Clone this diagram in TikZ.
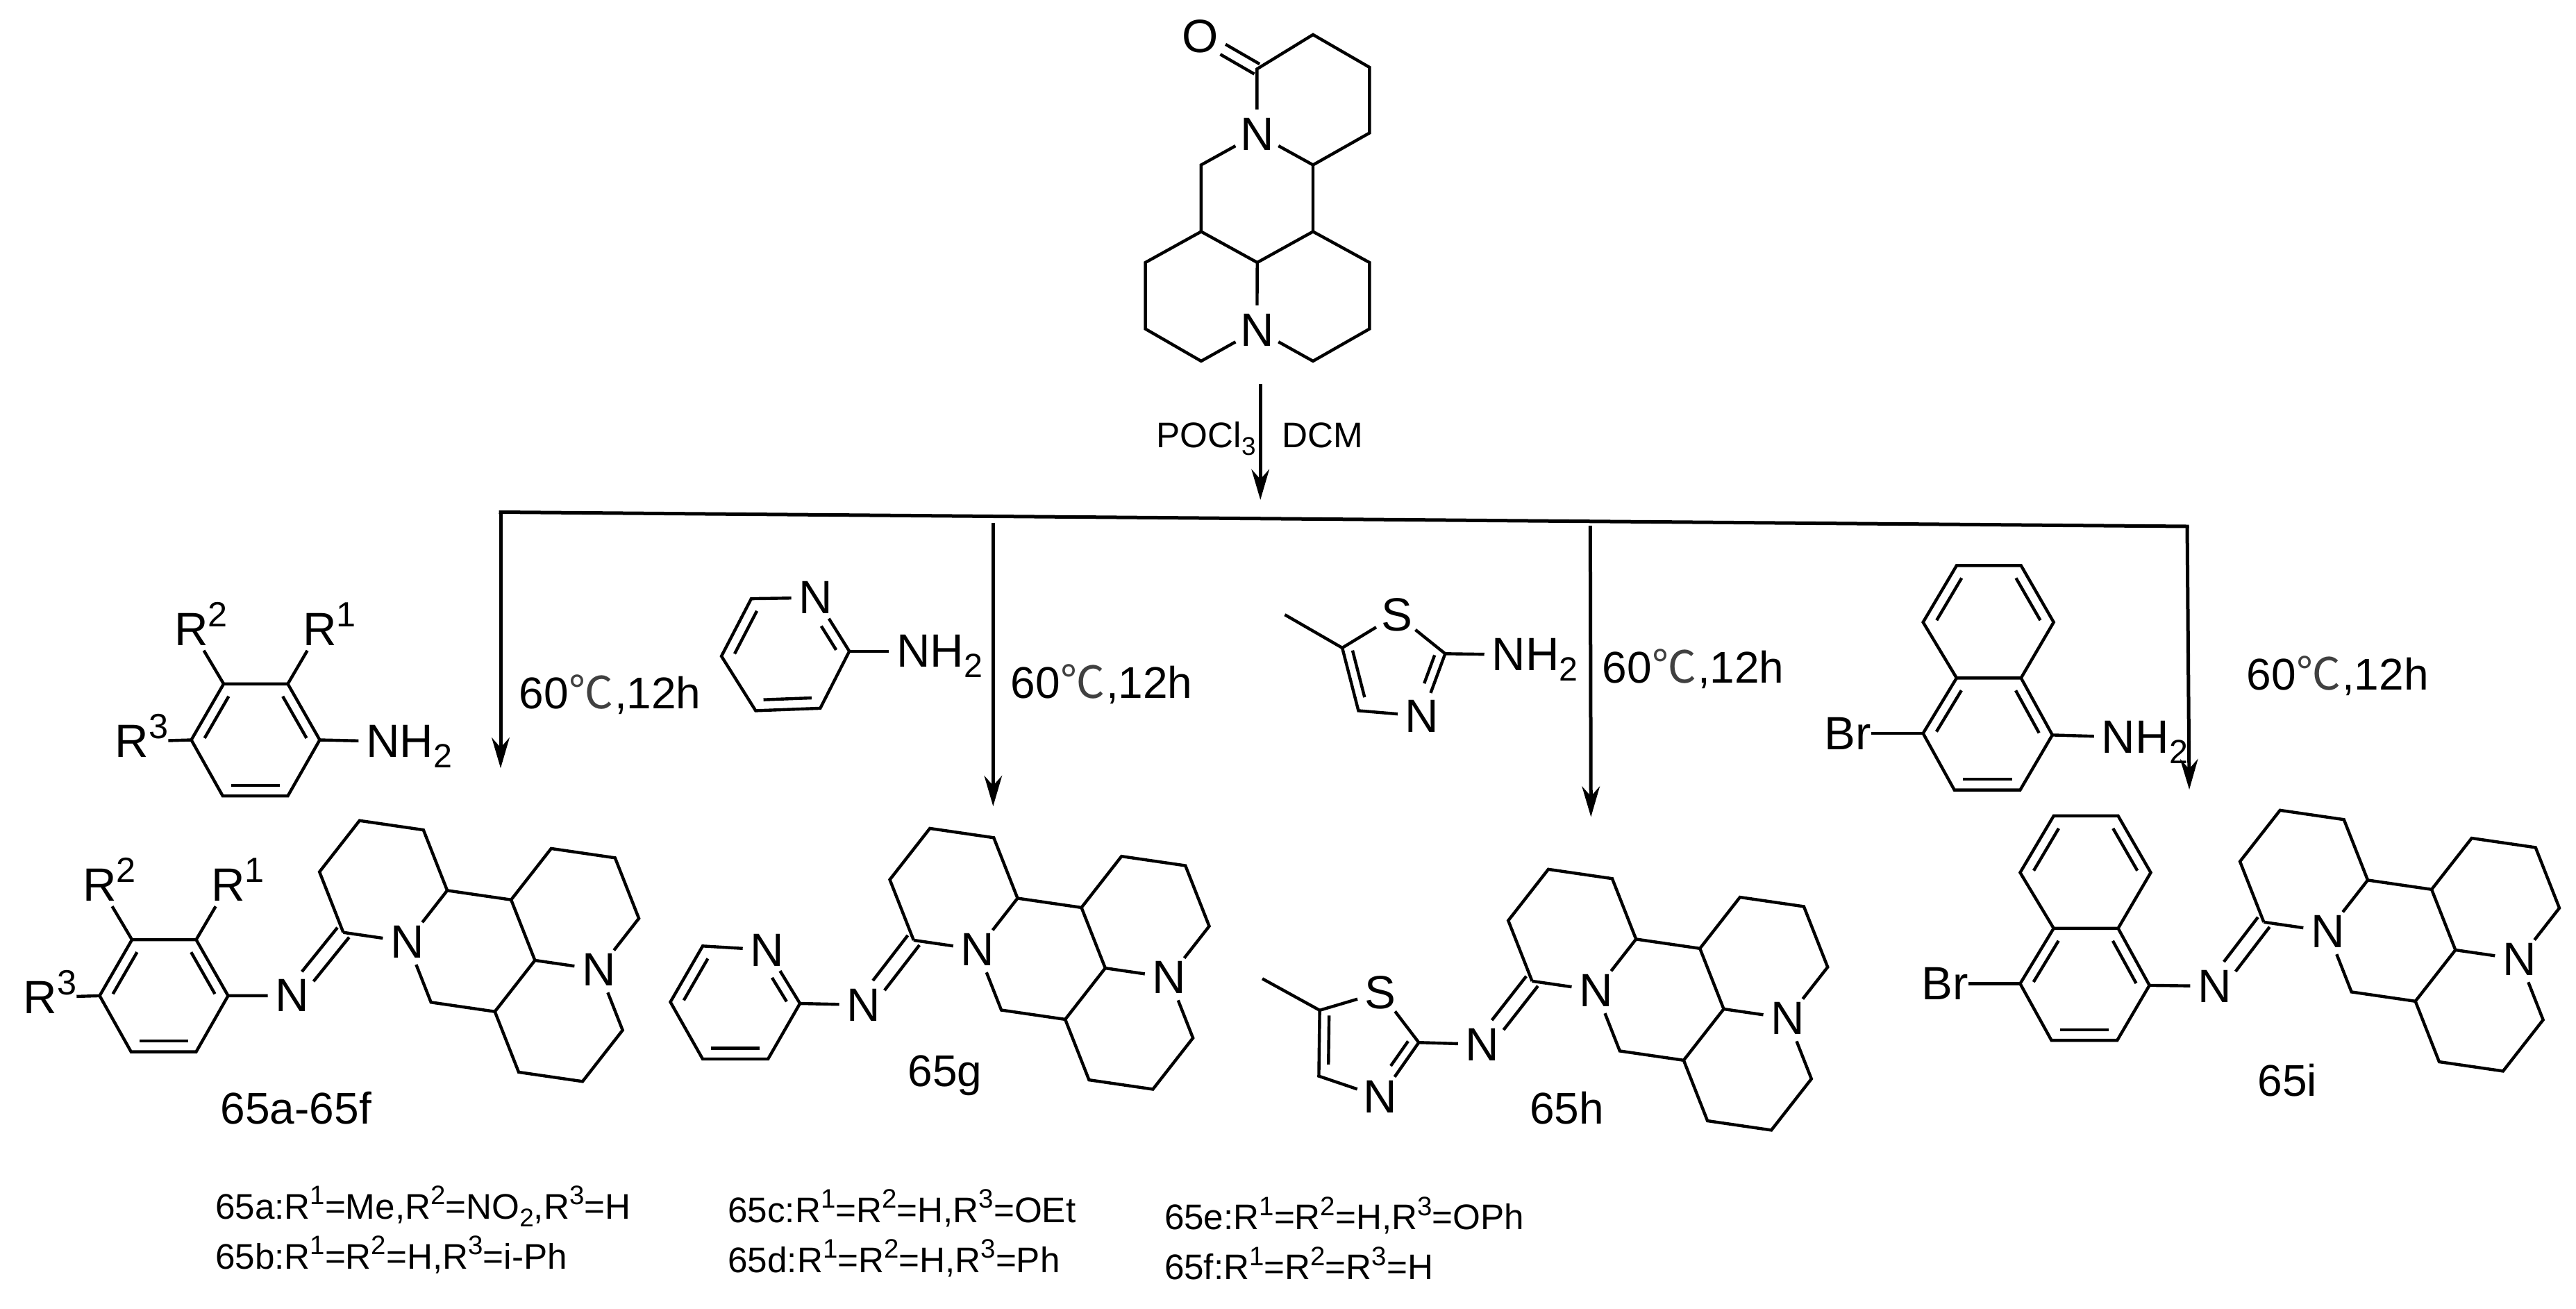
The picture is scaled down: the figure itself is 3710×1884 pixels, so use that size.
\documentclass[tikz,border=0pt]{standalone}
\usepackage{fontspec}
\setmainfont{Liberation Sans}
\newfontfamily\atomfam{Liberation Sans}
\newfontfamily\degfont{Noto Sans CJK SC}
\usetikzlibrary{arrows.meta, calc}

\newcommand{\atomfont}{\fontsize{16.8}{16.8}\atomfam}
\newcommand{\chemup}[1]{\smash{\raisebox{0.4em}{\fontsize{0.75em}{0.75em}\selectfont #1}}}
\newcommand{\chemdown}[1]{\smash{\raisebox{-0.22em}{\fontsize{0.72em}{0.72em}\selectfont #1}}}
\newcommand{\degC}{{\color{black!75}\degfont ℃}\kern0.5pt}

\tikzset{
	bond/.style={line width=1.1pt, line join=miter},
	conn/.style={line width=1.25pt},
	atom/.style={circle, inner sep=0pt, outer sep=0.5pt, font=\atomfont},
	endatom/.style={rectangle, inner sep=0pt, outer sep=0pt, font=\atomfont},
	dblup/.style 2 args={transform canvas={xshift=#1, yshift=#2}},
	cond/.style={anchor=base west, inner sep=0pt, font=\fontsize{16}{16}\selectfont},
	reag/.style={anchor=base west, inner sep=0pt, font=\fontsize{12.8}{13}\selectfont},
	capt/.style={anchor=base west, inner sep=0pt, font=\fontsize{12.8}{13}\selectfont},
}

% inner line of an aromatic double bond
\newcommand{\innerbond}[4][0.04]{%
	\draw[bond] ($(#2)!#1!(#3)!0.19!(#4)$) -- ($(#3)!0.04!(#2)!0.19!(#4)$);}

% tetracyclic skeleton on its lattice, a=(92,13.4) b=(34.3,87.2) px
\newcommand{\skeleton}[3]{%
	\begin{scope}[shift={(#2,#3)}, x={(23pt,-3.35pt)}, y={(8.575pt,-21.8pt)}, name prefix=#1-]
		\coordinate (d) at (0,0);
		\coordinate (c) at (0,-1);
		\coordinate (bv) at (-1,-1);
		\coordinate (av) at (-2,0);
		\coordinate (C) at (-2,1);
		\coordinate (e) at (1,0);
		\coordinate (f) at (2,-1);
		\coordinate (g) at (3,-1);
		\coordinate (h) at (3,0);
		\coordinate (i) at (1,1);
		\coordinate (j) at (0,2);
		\coordinate (k) at (-1,2);
		\coordinate (l) at (0,3);
		\coordinate (m) at (1,3);
		\coordinate (n) at (2,2);
		\node[atom] (N1) at (-1,1) {N};
		\node[atom] (N2) at (2,1) {N};
		\draw[bond] (C) -- (av) -- (bv) -- (c) -- (d) -- (N1) -- (C);
		\draw[bond] (d) -- (e) -- (f) -- (g) -- (h) -- (N2) -- (i) -- (e);
		\draw[bond] (N1) -- (k) -- (j) -- (i);
		\draw[bond] (j) -- (l) -- (m) -- (n) -- (N2);
	\end{scope}}

% substituted benzene ring
\newcommand{\arylring}[3]{%
	\begin{scope}[shift={(#2,#3)}, name prefix=#1-]
		\coordinate (a1) at (322.1,984.8);
		\coordinate (a2) at (414.5,984.8);
		\coordinate (a3) at (460.5,1065.5);
		\coordinate (a4) at (414.5,1146.2);
		\coordinate (a5) at (320.8,1146.2);
		\coordinate (a6) at (275.5,1065.5);
		\coordinate (cen) at ($(a1)!0.5!(a4)$);
		\node[atom] (R1) at (460.5,906.3) {R\rlap{\chemup{1}}};
		\node[atom] (R2) at (275.5,906.3) {R\rlap{\chemup{2}}};
		\node[endatom, anchor=east] (R3) at (242.3,1067.6) {R\chemup{3}};
		\draw[bond] (a1) -- (a2) -- (a3) -- (a4) -- (a5) -- (a6) -- cycle;
		\innerbond{a6}{a1}{cen}
		\innerbond{a2}{a3}{cen}
		\innerbond{a4}{a5}{cen}
		\draw[bond] (a1) -- (R2);
		\draw[bond] (a2) -- (R1);
		\draw[bond] (a6) -- (R3);
	\end{scope}}

% bromonaphthalene
\newcommand{\naphring}[3]{%
	\begin{scope}[shift={(#2,#3)}, name prefix=#1-]
		\coordinate (n1) at (2817.9,814.4);
		\coordinate (n2) at (2910.7,814.4);
		\coordinate (n3) at (2957.7,896);
		\coordinate (n4) at (2910.7,976.3);
		\coordinate (n5) at (2817.9,976.3);
		\coordinate (n6) at (2769.6,896);
		\coordinate (n7) at (2955.8,1058.4);
		\coordinate (n8) at (2909.4,1137.6);
		\coordinate (n9) at (2814.7,1137.6);
		\coordinate (n10) at (2769.6,1056);
		\coordinate (cena) at ($(n1)!0.5!(n4)$);
		\coordinate (cenb) at ($(n4)!0.5!(n9)$);
		\node[endatom, anchor=east] (Br) at (2695,1056) {Br};
		\draw[bond] (n5) -- (n6) -- (n1) -- (n2) -- (n3) -- (n4) -- (n7) -- (n8) -- (n9) -- (n10) -- (n5) -- (n4);
		\innerbond{n6}{n1}{cena}
		\innerbond{n2}{n3}{cena}
		\innerbond{n4}{n7}{cenb}
		\innerbond{n8}{n9}{cenb}
		\innerbond{n10}{n5}{cenb}
		\draw[bond] (n10) -- (Br);
	\end{scope}}

\begin{document}
\begin{tikzpicture}[x=0.25pt, y=-0.25pt, >={Stealth[length=11pt, width=6.4pt]}]
	\useasboundingbox (0,0) rectangle (3710,1884);
	
	% ====== starting lactam ======
	\node[atom] (O) at (1729,52.4) {O};
	\node[atom] (Nt) at (1810.3,192.9) {N};
	\node[atom] (Nb) at (1810.3,475) {N};
	\coordinate (cO) at (1810.3,99.4);
	\coordinate (t3) at (1891,49.9);
	\coordinate (t4) at (1972.3,96.9);
	\coordinate (t5) at (1972.3,191.5);
	\coordinate (t6) at (1891,237.5);
	\coordinate (t7) at (1891,333.5);
	\coordinate (t8) at (1810.7,378);
	\coordinate (t9) at (1729.9,333.5);
	\coordinate (t10) at (1729.9,237.5);
	\coordinate (t11) at (1649.6,378);
	\coordinate (t12) at (1649.6,473.6);
	\coordinate (t13) at (1729.9,520);
	\coordinate (t14) at (1891,520);
	\coordinate (t15) at (1972.3,473.6);
	\coordinate (t16) at (1972.3,378);
	\draw[bond] (Nt) -- (cO) -- (t3) -- (t4) -- (t5) -- (t6) -- (Nt) -- (t10) -- (t9) -- (t8) -- (t7) -- (t6);
	\draw[bond] (t9) -- (t11) -- (t12) -- (t13) -- (Nb) -- (t14) -- (t15) -- (t16) -- (t7);
	\draw[bond] (t8) -- (Nb);
	\draw[bond, dblup={0.95pt}{1.8pt}] (cO) -- (O);
	\draw[bond, dblup={-0.95pt}{-1.8pt}] (cO) -- (O);
	
	% ====== first step ======
	\coordinate (rs) at (1815.2,552.6);
	\coordinate (rt) at (1815.2,719.8);
	\draw[conn, ->] (rs) -- (rt);
	\node[reag] (poc) at (1665,644.7) {POCl\chemdown{3}};
	\node[reag] (dcm) at (1846,644.7) {DCM};
	
	% ====== distribution line and arrows ======
	\coordinate (hl) at (721,737.5);
	\coordinate (hr) at (3150,758);
	\coordinate (hb) at (1430.3,752.7);
	\coordinate (hc) at (2290.3,757);
	\coordinate (ta) at (721,1106.2);
	\coordinate (tb) at (1430.3,1161);
	\coordinate (tc) at (2291.3,1176.4);
	\coordinate (td) at (3153,1137);
	\draw[conn, line cap=rect] (hl) -- (hr);
	\draw[conn, ->] (hl) -- (ta);
	\draw[conn, ->] (hb) -- (tb);
	\draw[conn, ->] (hc) -- (tc);
	\draw[conn, ->] (hr) -- (td);
	\node[cond] (ca) at (747,1020) {60\degC,12h};
	\node[cond] (cb) at (1455,1005.9) {60\degC,12h};
	\node[cond] (cc) at (2307,983.4) {60\degC,12h};
	\node[cond] (cd) at (3235,993.5) {60\degC,12h};
	
	% ====== aniline ======
	\arylring{ar}{0}{0}
	\node[atom] (NHa) at (551.7,1067.6) {N\rlap{H\chemdown{2}}};
	\draw[bond] (ar-a3) -- (NHa);
	
	% ====== aminopyridine ======
	\node[atom] (pN) at (1175,860.7) {N};
	\coordinate (p2) at (1223.2,937.8);
	\coordinate (p3) at (1181.3,1019.9);
	\coordinate (p4) at (1088.3,1023.4);
	\coordinate (p5) at (1039,944.9);
	\coordinate (p6) at (1082,862.1);
	\coordinate (pc) at ($(p3)!0.5!(p6)$);
	\node[atom] (NHb) at (1315.7,937.8) {N\rlap{H\chemdown{2}}};
	\draw[bond] (pN) -- (p2) -- (p3) -- (p4) -- (p5) -- (p6) -- (pN);
	\innerbond[0.41]{pN}{p2}{pc}
	\innerbond{p3}{p4}{pc}
	\innerbond{p5}{p6}{pc}
	\draw[bond] (p2) -- (NHb);
	
	% ====== aminothiazole ======
	\node[atom] (sS) at (2011.5,885.2) {S};
	\node[atom] (sN) at (2048.2,1031.1) {N};
	\coordinate (sMe) at (1850.4,885.2);
	\coordinate (s5) at (1933.1,932.9);
	\coordinate (s2) at (2081.3,941.3);
	\coordinate (s4) at (1956.4,1023.4);
	\coordinate (sc) at ($(s5)!0.5!(s2)$);
	\node[atom] (NHc) at (2173.1,942.7) {N\rlap{H\chemdown{2}}};
	\draw[bond] (sMe) -- (s5) -- (sS) -- (s2) -- (sN) -- (s4) -- (s5);
	\innerbond{s5}{s4}{sc}
	\innerbond[0.4]{sN}{s2}{sc}
	\draw[bond] (s2) -- (NHc);
	
	% ====== bromonaphthylamine ======
	\naphring{nt}{0}{0}
	\node[atom] (NHd) at (3051.2,1061.3) {N\rlap{H\chemdown{2}}};
	\draw[bond] (nt-n7) -- (NHd);
	
	% ====== 65a-65f ======
	\skeleton{ma}{644.1}{1282.3}
	\arylring{ap}{-132}{368.4}
	\node[atom] (Ia) at (420.9,1433.8) {N};
	\draw[bond] (ap-a3) -- (Ia);
	\draw[bond, dblup={-2.1pt}{1.75pt}] (ma-C) -- (Ia);
	\draw[bond, dblup={2.1pt}{-1.75pt}] (ma-C) -- (Ia);
	\node[cond] (la) at (317,1618.3) {65a-65f};
	
	% ====== 65g ======
	\skeleton{mb}{1465.5}{1293.5}
	\node[atom] (qN) at (1105,1367.9) {N};
	\coordinate (q2) at (1152.1,1445);
	\coordinate (q3) at (1106.1,1525);
	\coordinate (q4) at (1012,1525);
	\coordinate (q5) at (965.5,1442.9);
	\coordinate (q6) at (1012,1362.3);
	\coordinate (qc) at ($(q3)!0.5!(q6)$);
	\draw[bond] (qN) -- (q2) -- (q3) -- (q4) -- (q5) -- (q6) -- (qN);
	\innerbond[0.41]{qN}{q2}{qc}
	\innerbond{q3}{q4}{qc}
	\innerbond{q5}{q6}{qc}
	\node[atom] (Ib) at (1243.9,1447.1) {N};
	\draw[bond] (q2) -- (Ib);
	\draw[bond, dblup={-2.1pt}{1.75pt}] (mb-C) -- (Ib);
	\draw[bond, dblup={2.1pt}{-1.75pt}] (mb-C) -- (Ib);
	\node[cond] (lb) at (1307,1564.3) {65g};
	
	% ====== 65h ======
	\skeleton{mc}{2356.2}{1352.4}
	\node[atom] (uS) at (1988.2,1428.9) {S};
	\node[atom] (uN) at (1988.2,1579.7) {N};
	\coordinate (uMe) at (1818,1409.3);
	\coordinate (u5) at (1900.6,1454.8);
	\coordinate (u2) at (2043.3,1501.2);
	\coordinate (u4) at (1899.4,1549.6);
	\coordinate (uc) at ($(u5)!0.5!(u2)$);
	\draw[bond] (uMe) -- (u5) -- (uS) -- (u2) -- (uN) -- (u4) -- (u5);
	\innerbond{u5}{u4}{uc}
	\innerbond[0.4]{uN}{u2}{uc}
	\node[atom] (Ic) at (2135.2,1504) {N};
	\draw[bond] (u2) -- (Ic);
	\draw[bond, dblup={-2.1pt}{1.75pt}] (mc-C) -- (Ic);
	\draw[bond, dblup={2.1pt}{-1.75pt}] (mc-C) -- (Ic);
	\node[cond] (lc) at (2202.5,1618.3) {65h};
	
	% ====== 65i ======
	\skeleton{md}{3410}{1267.4}
	\naphring{np}{139.8}{360.5}
	\node[atom] (Id) at (3189.7,1420.1) {N};
	\draw[bond] (np-n7) -- (Id);
	\draw[bond, dblup={-2.1pt}{1.75pt}] (md-C) -- (Id);
	\draw[bond, dblup={2.1pt}{-1.75pt}] (md-C) -- (Id);
	\node[cond] (ld) at (3250.9,1578) {65i};
	
	% ====== substituents ======
	\node[capt] (sa) at (309.3,1755) {65a:R\chemup{1}=Me,R\chemup{2}=NO\chemdown{2},R\chemup{3}=H};
	\node[capt] (sb) at (309.3,1827.3) {65b:R\chemup{1}=R\chemup{2}=H,R\chemup{3}=i-Ph};
	\node[capt] (sc) at (1047.6,1760) {65c:R\chemup{1}=R\chemup{2}=H,R\chemup{3}=OEt};
	\node[capt] (sd) at (1047.6,1832.3) {65d:R\chemup{1}=R\chemup{2}=H,R\chemup{3}=Ph};
	\node[capt] (se) at (1676.2,1770.5) {65e:R\chemup{1}=R\chemup{2}=H,R\chemup{3}=OPh};
	\node[capt] (sf) at (1676.2,1842.8) {65f:R\chemup{1}=R\chemup{2}=R\chemup{3}=H};
\end{tikzpicture}
\end{document}
